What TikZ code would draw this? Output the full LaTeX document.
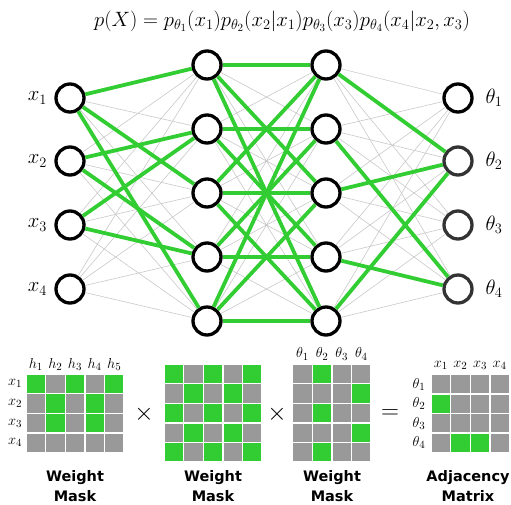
\documentclass[tikz,border=0pt]{standalone}
\usepackage{fontspec}
\newfontfamily\captfont{DejaVu Sans}
\definecolor{actgreen}{RGB}{50,205,50}
\definecolor{cellgray}{RGB}{153,153,153}
\definecolor{faintgray}{RGB}{200,200,200}
\begin{document}
\begin{tikzpicture}[x=1pt,y=-1pt,
  unit/.style={circle,draw=black,line width=3.3pt,fill=white,minimum size=28pt,inner sep=0pt},
  outunit/.style={unit,draw=black!80},
  faint/.style={draw=faintgray,line width=0.6pt},
  active/.style={draw=actgreen,line width=3.8pt},
  lbl/.style={font=\fontsize{20}{24}\selectfont,inner sep=0pt},
  mlbl/.style={font=\fontsize{15}{18}\selectfont,inner sep=0pt},
  capt/.style={font=\captfont\bfseries\fontsize{14.5}{20}\selectfont,align=center,inner sep=0pt},
  op/.style={font=\fontsize{40}{40}\selectfont,inner sep=0pt},
  gcell/.style={fill=cellgray},
  ggreen/.style={fill=actgreen}
]
\useasboundingbox (0,0) rectangle (511,504);

\node[font=\fontsize{22}{24}\selectfont,inner sep=0pt] (formula) at (282,21)
  {$p(X)=p_{\theta_1}(x_1)p_{\theta_2}(x_2|x_1)p_{\theta_3}(x_3)p_{\theta_4}(x_4|x_2,x_3)$};

% nodes
\foreach \i/\y in {1/98,2/161,3/225,4/289}{
  \node[unit] (x\i) at (70,\y) {};
  \node[lbl] (lx\i) at (37.5,\y) {$x_\i$};
}
\foreach \i/\y in {1/65,2/129,3/193,4/257,5/321}{
  \node[unit] (a\i) at (207,\y) {};
  \node[unit] (b\i) at (326,\y) {};
}
\node[unit] (t1) at (458,98) {};
\node[outunit] (t2) at (458,161) {};
\node[outunit] (t3) at (458,225) {};
\node[outunit] (t4) at (458,289) {};
\foreach \i/\y in {1/98,2/161,3/225,4/289}{
  \node[lbl] (lt\i) at (494,\y) {$\theta_\i$};
}

% faint connectors
\foreach \i in {1,...,4}{\foreach \j in {1,...,5}{\draw[faint] (x\i) -- (a\j);}}
\foreach \i in {1,...,5}{\foreach \j in {1,...,5}{\draw[faint] (a\i) -- (b\j);}}
\foreach \i in {1,...,5}{\foreach \j in {1,...,4}{\draw[faint] (b\i) -- (t\j);}}

% active connectors
\foreach \i/\j in {1/1,1/3,1/5,2/2,2/4,3/2,3/4}{\draw[active] (x\i) -- (a\j);}
\foreach \i/\j in {1/1,1/3,1/5,2/2,2/4,3/1,3/3,3/5,4/2,4/4,5/1,5/3,5/5}{\draw[active] (a\i) -- (b\j);}
\foreach \i/\j in {1/2,2/4,3/2,4/4,5/2}{\draw[active] (b\i) -- (t\j);}

% matrix 1
\begin{scope}[shift={(26,374)}]
  \foreach \r in {1,...,4}{\foreach \c in {1,...,5}{
    \fill[gcell] ({(\c-1)*19.6+0.7},{(\r-1)*19.6+0.7}) rectangle ++(18.2,18.2);}}
  \foreach \r/\c in {1/1,1/3,1/5,2/2,2/4,3/2,3/4}{
    \fill[ggreen] ({(\c-1)*19.6+0.7},{(\r-1)*19.6+0.7}) rectangle ++(18.2,18.2);}
  \foreach \c in {1,...,5}{\node[mlbl] (m1h\c) at ({(\c-0.5)*19.6},-9.5) {$h_\c$};}
  \foreach \r in {1,...,4}{\node[mlbl] (m1x\r) at (-11,{(\r-0.5)*19.6}) {$x_\r$};}
\end{scope}
% matrix 2
\begin{scope}[shift={(164,364)}]
  \foreach \r in {1,...,5}{\foreach \c in {1,...,5}{
    \pgfmathtruncatemacro{\parity}{mod(\r+\c,2)}
    \ifnum\parity=0
      \fill[ggreen] ({(\c-1)*19.6+0.7},{(\r-1)*19.6+0.7}) rectangle ++(18.2,18.2);
    \else
      \fill[gcell] ({(\c-1)*19.6+0.7},{(\r-1)*19.6+0.7}) rectangle ++(18.2,18.2);
    \fi}}
\end{scope}
% matrix 3
\begin{scope}[shift={(292.7,364)}]
  \foreach \r in {1,...,5}{\foreach \c in {1,...,4}{
    \fill[gcell] ({(\c-1)*19.6+0.7},{(\r-1)*19.6+0.7}) rectangle ++(18.2,18.2);}}
  \foreach \r/\c in {1/2,2/4,3/2,4/4,5/2}{
    \fill[ggreen] ({(\c-1)*19.6+0.7},{(\r-1)*19.6+0.7}) rectangle ++(18.2,18.2);}
  \foreach \c in {1,...,4}{\node[mlbl] (m3t\c) at ({(\c-0.5)*19.6},-10) {$\theta_\c$};}
\end{scope}
% matrix 4
\begin{scope}[shift={(431,374.3)}]
  \foreach \r in {1,...,4}{\foreach \c in {1,...,4}{
    \fill[gcell] ({(\c-1)*19.6+0.7},{(\r-1)*19.6+0.7}) rectangle ++(18.2,18.2);}}
  \foreach \r/\c in {2/1,4/2,4/3}{
    \fill[ggreen] ({(\c-1)*19.6+0.7},{(\r-1)*19.6+0.7}) rectangle ++(18.2,18.2);}
  \foreach \c in {1,...,4}{\node[mlbl] (m4x\c) at ({(\c-0.5)*19.6},-8.5) {$x_\c$};}
  \foreach \r in {1,...,4}{\node[mlbl] (m4t\r) at (-12,{(\r-0.5)*19.6}) {$\theta_\r$};}
\end{scope}

% operators
\node[op] (op1) at (144,414) {$\times$};
\node[op] (op2) at (277,414) {$\times$};
\node[op] (op3) at (390,414) {$=$};

% captions
\node[capt] (c1) at (75,486) {Weight\\Mask};
\node[capt] (c2) at (213,486) {Weight\\Mask};
\node[capt] (c3) at (332,486) {Weight\\Mask};
\node[capt] (c4) at (468,486) {Adjacency\\Matrix};
\end{tikzpicture}
\end{document}
